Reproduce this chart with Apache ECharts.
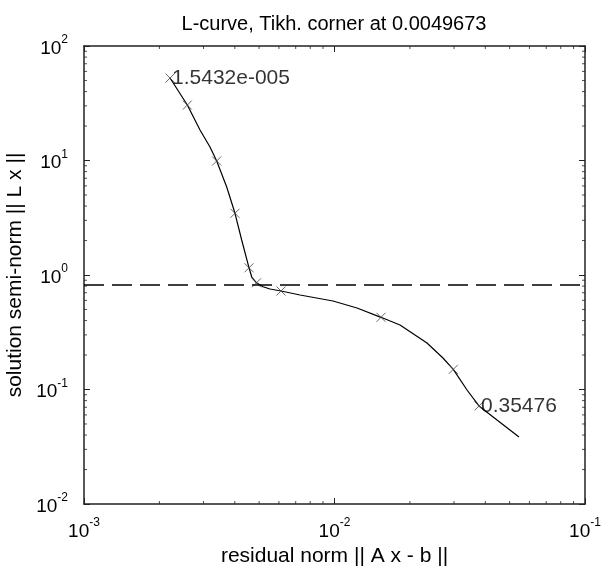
<!DOCTYPE html>
<html>
<head>
<meta charset="utf-8">
<script src="https://cdn.jsdelivr.net/npm/echarts@6/dist/echarts.min.js"></script>
<style>
html, body { margin: 0; padding: 0; background: #fff; }
#main { width: 602px; height: 569px; }
</style>
</head>
<body>
<div id="main"></div>
<script>
// L-curve
var residual = [0.002205, 0.002585, 0.002905, 0.003184, 0.003386, 0.003713, 0.004006, 0.004261,
  0.004558, 0.004673, 0.004883, 0.005183, 0.005527, 0.006115, 0.007286, 0.009863, 0.01230,
  0.01533, 0.01826, 0.02340, 0.02710, 0.02980, 0.03381, 0.03773, 0.04454, 0.05452];
var solution = [52.5, 30.5, 18.47, 13.12, 9.90, 5.87, 3.458, 2.021,
  1.156, 0.960, 0.855, 0.790, 0.7548, 0.725, 0.669, 0.593, 0.515,
  0.427, 0.366, 0.2547, 0.1884, 0.150, 0.0990, 0.0718, 0.0541, 0.0385];

// the crosses
var markRes = [0.002205, 0.002585, 0.003386, 0.004006, 0.004558, 0.004883, 0.006115, 0.01533, 0.02980, 0.03773];
var markSol = [52.5, 30.5, 9.90, 3.458, 1.156, 0.855, 0.725, 0.427, 0.150, 0.0718];
var markText = ['1.5432e-005', '', '', '', '', '', '', '', '', '0.35476'];

var cornerLevel = 0.82;
var titleText = 'L-curve, Tikh. corner at 0.0049673';

var xDecades = [0.001, 0.01, 0.1];
var yDecades = [0.01, 0.1, 1, 10, 100];

var font = "'Liberation Sans', Arial, sans-serif";

var minor = function(decades) {
  var out = [];
  for (var i = 0; i < decades.length - 1; i++) {
    for (var k = 2; k <= 9; k++) out.push(decades[i] * k);
  }
  return out;
};
var xMinor = minor(xDecades), yMinor = minor(yDecades);
var xMin = xDecades[0], xMax = xDecades[xDecades.length - 1];
var yMin = yDecades[0], yMax = yDecades[yDecades.length - 1];

var tickSeries = function(pts, size, offset) {
  return {
    type: 'scatter', silent: true, clip: false, z: 5,
    symbol: 'rect', symbolSize: size, symbolOffset: offset,
    itemStyle: { color: '#222' },
    data: pts
  };
};

var powLabel = function(v) {
  var e = Math.round(Math.log10(v));
  return '{b|10}{s|' + e + '}';
};
var rich = {
  b: { fontSize: 19, fontFamily: font, color: '#000', lineHeight: 24, verticalAlign: 'bottom' },
  s: { fontSize: 12, fontFamily: font, color: '#000', lineHeight: 13, verticalAlign: 'top' }
};

var axisLine = { show: true, lineStyle: { color: '#222', width: 1.5 } };
var majorTick = { show: true, inside: true, length: 6, lineStyle: { color: '#222', width: 1 } };

var markData = markRes.map(function(x, i) {
  var item = { value: [x, markSol[i]] };
  if (markText[i]) {
    item.label = { show: true, formatter: markText[i], position: 'right', distance: -3,
      fontSize: 21, fontFamily: font, color: '#000' };
  }
  return item;
});

var chart = echarts.init(document.getElementById('main'));
chart.setOption({
  animation: false,
  backgroundColor: '#fff',
  grid: { left: 84, right: 17, top: 46, bottom: 65, outerBoundsMode: 'none' },
  graphic: [{
    type: 'text', x: 334, y: 24,
    style: { text: titleText, textAlign: 'center', textVerticalAlign: 'middle',
      font: '20px ' + font, fill: '#000' }
  }],
  xAxis: [{
    type: 'log', logBase: 10, min: xMin, max: xMax, position: 'bottom',
    axisLine: axisLine, axisTick: majorTick, splitLine: { show: false },
    axisLabel: { formatter: powLabel, rich: rich, margin: 13 },
    name: 'residual norm || A x - b ||', nameLocation: 'middle', nameGap: 41,
    nameTextStyle: { fontSize: 21, fontFamily: font, color: '#000' }
  }, {
    type: 'log', logBase: 10, min: xMin, max: xMax, position: 'top',
    axisLine: axisLine, axisTick: majorTick, splitLine: { show: false },
    axisLabel: { show: false }
  }],
  yAxis: [{
    type: 'log', logBase: 10, min: yMin, max: yMax, position: 'left',
    axisLine: axisLine, axisTick: majorTick, splitLine: { show: false },
    axisLabel: { formatter: powLabel, rich: rich, margin: 16 },
    name: 'solution semi-norm || L x ||', nameLocation: 'middle', nameGap: 50,
    nameTextStyle: { fontSize: 21, fontFamily: font, color: '#000' }
  }, {
    type: 'log', logBase: 10, min: yMin, max: yMax, position: 'right',
    axisLine: axisLine, axisTick: majorTick, splitLine: { show: false },
    axisLabel: { show: false }
  }],
  series: [
    {
      type: 'line', data: residual.map(function(x, i) { return [x, solution[i]]; }),
      showSymbol: false, symbol: 'none', z: 3,
      lineStyle: { color: '#000', width: 1.2 },
      markLine: {
        silent: true, symbol: 'none', label: { show: false },
        lineStyle: { color: '#000', width: 1.5, type: [20, 8] },
        data: [{ yAxis: cornerLevel }]
      }
    },
    {
      type: 'scatter', data: markData, z: 4,
      symbol: 'path://M0,0L10,10M10,0L0,10', symbolSize: 9,
      itemStyle: { color: 'transparent', borderColor: '#444', borderWidth: 1 }
    },
    tickSeries(xMinor.map(function(v) { return [v, yMin]; }), [1, 3], [0, -1.5]),
    tickSeries(xMinor.map(function(v) { return [v, yMax]; }), [1, 3], [0, 1.5]),
    tickSeries(yMinor.map(function(v) { return [xMin, v]; }), [3, 1], [1.5, 0]),
    tickSeries(yMinor.map(function(v) { return [xMax, v]; }), [3, 1], [-1.5, 0])
  ]
});
</script>
</body>
</html>
